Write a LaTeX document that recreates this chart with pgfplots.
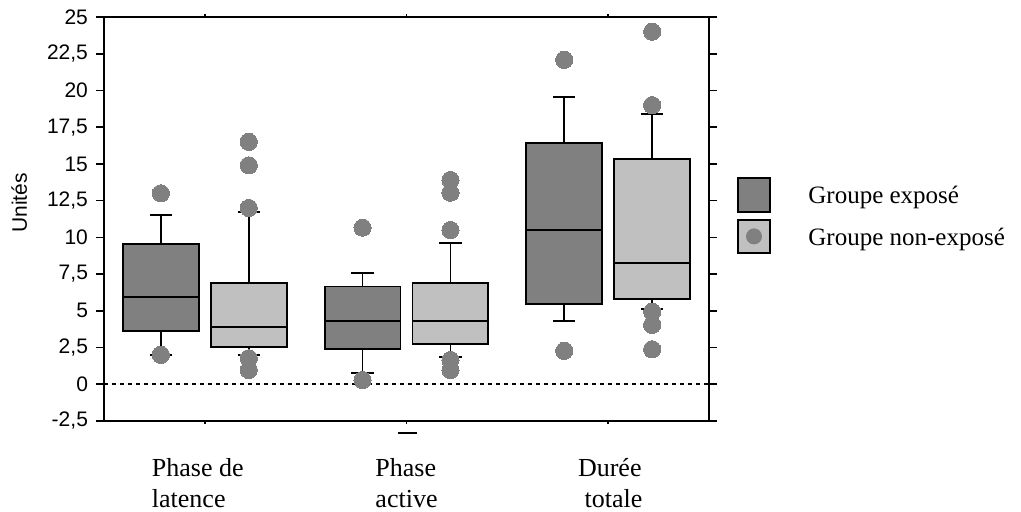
\documentclass[border=0pt]{standalone}
\usepackage{fontspec}
\setmainfont{Liberation Serif}
\newfontfamily\sansf{Liberation Sans}
\usepackage{pgfplots}
\pgfplotsset{compat=1.18}
\usepgfplotslibrary{statistics}

\definecolor{darkbox}{HTML}{808080}
\definecolor{lightbox}{HTML}{C0C0C0}
\definecolor{outl}{HTML}{808080}

\pgfplotsset{
  gbox/.style={draw=black, line width=0.9pt, mark=*, mark size=4.3pt,
    mark options={draw=outl, fill=outl, line width=0pt}},
}

\begin{document}
\begin{tikzpicture}
% fixed canvas, same proportions as the reference
\path (-52pt,-45.5pt) rectangle (458.5pt,210.5pt);

\begin{axis}[
  at={(0,0)}, anchor=south west,
  scale only axis,
  width=302.5pt, height=202pt,
  xmin=0.5, xmax=3.5,
  ymin=-2.5, ymax=25,
  xtick={1,2,3}, xticklabels={},
  ytick={-2.5,0,...,25},
  ytick pos=both, yticklabel pos=left,
  tick align=outside,
  major tick length=4pt,
  x tick style={/pgfplots/major tick length=1.5pt},
  axis line style={line width=0.9pt},
  tick style={line width=0.8pt, black},
  yticklabel style={font=\sansf\fontsize{10.5}{11}\selectfont, xshift=-0.5pt,
    /pgf/number format/use comma, /pgf/number format/fixed,
    /pgf/number format/assume math mode=true},
  ylabel={Unités},
  every axis y label/.style={at={(axis description cs:-0.14,0.54)}, rotate=90,
    anchor=center, font=\sansf\fontsize{10.5}{11}\selectfont},
  clip=false,
  boxplot/draw direction=y,
  boxplot/box extend=0.376,
  boxplot/whisker extend=0.11,
  boxplot/every median/.style={line width=1pt},
]

% zero reference line
\addplot[black, line width=0.8pt, dash pattern=on 2pt off 2pt] coordinates {(0.5,0) (3.5,0)};

% --- Phase de latence
\addplot[gbox, fill=darkbox,
  boxplot prepared={draw position=0.782, lower whisker=2.0, lower quartile=3.65,
    median=5.96, upper quartile=9.53, upper whisker=11.52}]
  table[row sep=\\, y index=0] {13.0\\ 2.0\\};
\addplot[gbox, fill=lightbox,
  boxplot prepared={draw position=1.218, lower whisker=2.0, lower quartile=2.56,
    median=3.9, upper quartile=6.9, upper whisker=11.7}]
  table[row sep=\\, y index=0] {16.5\\ 14.9\\ 12.0\\ 1.77\\ 0.97\\};

% --- Phase active
\addplot[gbox, fill=darkbox,
  boxplot prepared={draw position=1.782, lower whisker=0.79, lower quartile=2.4,
    median=4.33, upper quartile=6.65, upper whisker=7.6}]
  table[row sep=\\, y index=0] {10.66\\ 0.29\\};
\addplot[gbox, fill=lightbox,
  boxplot prepared={draw position=2.218, lower whisker=1.88, lower quartile=2.72,
    median=4.33, upper quartile=6.92, upper whisker=9.64}]
  table[row sep=\\, y index=0] {13.9\\ 13.04\\ 10.5\\ 1.65\\ 0.97\\};

% --- Durée totale
\addplot[gbox, fill=darkbox,
  boxplot prepared={draw position=2.782, lower whisker=4.33, lower quartile=5.47,
    median=10.48, upper quartile=16.45, upper whisker=19.56}]
  table[row sep=\\, y index=0] {22.08\\ 2.27\\};
\addplot[gbox, fill=lightbox,
  boxplot prepared={draw position=3.218, lower whisker=5.13, lower quartile=5.83,
    median=8.28, upper quartile=15.34, upper whisker=18.38}]
  table[row sep=\\, y index=0] {24.0\\ 19.0\\ 4.94\\ 4.04\\ 2.38\\};

% category labels
\node[anchor=north, align=left, inner sep=0pt, font=\fontsize{13}{15.5}\selectfont]
  at (axis cs:0.965,-2.5) [yshift=-18.5pt] {Phase de\\latence};
\node[anchor=north, align=left, inner sep=0pt, font=\fontsize{13}{15.5}\selectfont]
  at (axis cs:2,-2.5) [yshift=-18.5pt] {Phase\\active};
\node[anchor=north, align=left, inner sep=0pt, font=\fontsize{13}{15.5}\selectfont]
  at (axis cs:3.01,-2.5) [yshift=-18.5pt] {Durée\\\ totale};
\end{axis}

% stray dash under the axis
\draw[line width=0.9pt] (147pt,-6pt) -- (156.5pt,-6pt);

% legend
\draw[line width=0.9pt, fill=darkbox] (317pt,104.5pt) rectangle (333pt,121.5pt);
\draw[line width=0.9pt, fill=lightbox] (317pt,84pt) rectangle (333pt,100.5pt);
\fill[outl] (325pt,92.3pt) circle (4pt);
\node[anchor=west, inner sep=0pt, font=\fontsize{12.5}{14}\selectfont] at (352pt,112pt) {Groupe exposé};
\node[anchor=west, inner sep=0pt, font=\fontsize{12.5}{14}\selectfont] at (352pt,91pt) {Groupe non-exposé};
\end{tikzpicture}
\end{document}
